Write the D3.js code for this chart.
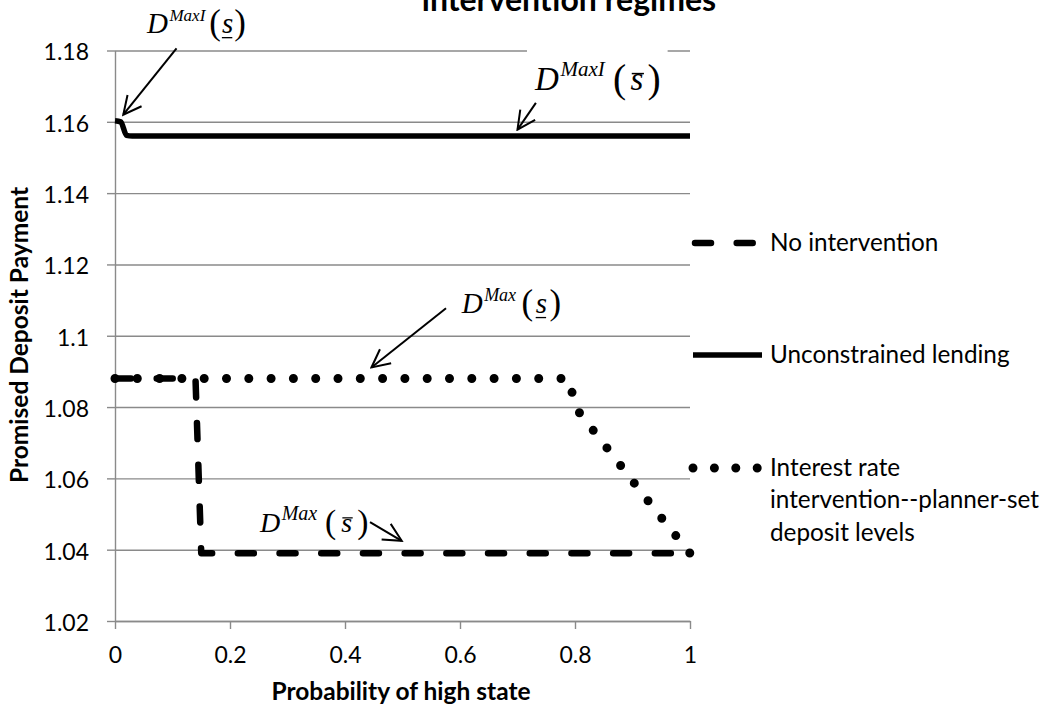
<!DOCTYPE html>
<html>
<head>
<meta charset="utf-8">
<script src="https://cdn.jsdelivr.net/npm/d3@7"></script>
<style>
  body { margin: 0; background: #fff; }
  svg { display: block; }
  text { font-family: Lato, "Open Sans", sans-serif; fill: #000; }
</style>
</head>
<body>
<svg id="chart" width="1052" height="713"></svg>
<script>
// ticks
const xTicks = [0, 0.2, 0.4, 0.6, 0.8, 1]
const xTickLabels = ["0", "0.2", "0.4", "0.6", "0.8", "1"]
const yTicks = [1.02, 1.04, 1.06, 1.08, 1.1, 1.12, 1.14, 1.16, 1.18]
const yTickLabels = ["1.02", "1.04", "1.06", "1.08", "1.1", "1.12", "1.14", "1.16", "1.18"]

// No intervention
const probNone = [0, 0.14, 0.15, 1]
const depNone = [1.088, 1.088, 1.039, 1.039]

// Unconstrained lending
const probUnc = [0, 0.01, 0.02, 0.03, 1]
const depUnc = [1.1603, 1.1600, 1.1562, 1.156, 1.156]

// Interest rate intervention -- planner-set deposit levels
const probRate = [0, 0.79, 0.80, 0.85, 0.90, 0.95, 1]
const depRate = [1.088, 1.088, 1.080, 1.0697, 1.0593, 1.049, 1.039]

const legendLines = [
  ["No intervention"],
  ["Unconstrained lending"],
  ["Interest rate", "intervention--planner-set", "deposit levels"]
]

const titleText = "intervention regimes"
const xTitle = "Probability of high state"
const yTitle = "Promised Deposit Payment"

const svg = d3.select("#chart")
const gridColor = "#8a8a8a"

const x = d3.scaleLinear().domain([0, 1]).range([115, 690])
const y = d3.scaleLinear().domain([1.02, 1.18]).range([621, 50.5])

// gridlines
const grid = svg.append("g")
  .attr("transform", "translate(115,0)")
  .call(d3.axisLeft(y).tickValues(yTicks).tickSize(-575).tickFormat(""))
grid.select(".domain").remove()
grid.selectAll("line").attr("stroke", gridColor).attr("stroke-width", 1.4)

// layer for the white box behind one label (it hides the top gridline)
const annoBack = svg.append("g")

// y axis
const yAxis = svg.append("g")
  .attr("transform", "translate(115,0)")
  .call(d3.axisLeft(y).tickValues(yTicks).tickSize(8).tickSizeOuter(0).tickPadding(18)
    .tickFormat((d, i) => yTickLabels[i]))
yAxis.select(".domain").attr("stroke", gridColor).attr("stroke-width", 1.4)
yAxis.selectAll("line").attr("stroke", gridColor).attr("stroke-width", 1.4)
yAxis.selectAll("text").attr("font-size", 23).attr("dy", "0.41em")
  .style("font-family", "Lato, sans-serif")

// x axis
const xAxis = svg.append("g")
  .attr("transform", "translate(0,621)")
  .call(d3.axisBottom(x).tickValues(xTicks).tickSize(8).tickSizeOuter(0).tickPadding(18)
    .tickFormat((d, i) => xTickLabels[i]))
xAxis.select(".domain").attr("stroke", gridColor).attr("stroke-width", 1.4)
xAxis.selectAll("line").attr("stroke", gridColor).attr("stroke-width", 1.4)
xAxis.selectAll("text").attr("font-size", 23)
  .style("font-family", "Lato, sans-serif")

// series
const line = d3.line().x(d => x(d[0])).y(d => y(d[1]))
const smooth = d3.line().x(d => x(d[0])).y(d => y(d[1])).curve(d3.curveMonotoneX)

const dashStyle = { width: 6.5, dash: "16,25.7" }
const dotStyle = { width: 9, dash: "0,22.3" }

svg.append("path")
  .datum(d3.zip(probNone, depNone))
  .attr("d", line)
  .attr("fill", "none").attr("stroke", "#000")
  .attr("stroke-width", dashStyle.width)
  .attr("stroke-dasharray", dashStyle.dash)
  .attr("stroke-linecap", "round").attr("stroke-linejoin", "round")

svg.append("path")
  .datum(d3.zip(probUnc, depUnc))
  .attr("d", smooth)
  .attr("fill", "none").attr("stroke", "#000")
  .attr("stroke-width", 5.5)
  .attr("stroke-linejoin", "round")

svg.append("path")
  .datum(d3.zip(probRate, depRate))
  .attr("d", line)
  .attr("fill", "none").attr("stroke", "#000")
  .attr("stroke-width", dotStyle.width)
  .attr("stroke-dasharray", dotStyle.dash)
  .attr("stroke-linecap", "round")

// legend
const legend = svg.append("g").attr("transform", "translate(693,0)")
const legendY = [243, 355, 468]
legendLines.forEach((lines, i) => {
  const ly = legendY[i]
  const sample = legend.append("path")
    .attr("d", i === 0 ? `M2,${ly}H60` : `M0,${ly}H69`)
    .attr("fill", "none").attr("stroke", "#000")
  if (i === 0) {
    sample.attr("stroke-width", dashStyle.width).attr("stroke-dasharray", dashStyle.dash)
      .attr("stroke-linecap", "round")
  } else if (i === 1) {
    sample.attr("stroke-width", 5.5)
  } else {
    sample.attr("stroke-width", dotStyle.width).attr("stroke-dasharray", "0,21.4")
      .attr("stroke-linecap", "round")
  }
  const t = legend.append("text")
    .attr("x", 77).attr("y", ly + 8)
    .attr("font-size", 24.3)
  lines.forEach((s, j) => {
    t.append("tspan").attr("x", 77).attr("dy", j === 0 ? 0 : 32.3).text(s)
  })
})

// axis titles
svg.append("text")
  .attr("x", 401).attr("y", 700)
  .attr("text-anchor", "middle")
  .attr("font-size", 24.5).attr("font-weight", "bold")
  .text(xTitle)

svg.append("text")
  .attr("transform", "translate(28,335) rotate(-90)")
  .attr("text-anchor", "middle")
  .attr("font-size", 24.5).attr("font-weight", "bold")
  .text(yTitle)

// title (its top is cut off by the frame, as in the original)
svg.append("text")
  .attr("x", 569).attr("y", 11)
  .attr("text-anchor", "middle")
  .attr("font-size", 32).attr("font-weight", "bold")
  .text(titleText)

// annotations: D^sup(s) with an arrow
const serif = "'Liberation Serif', 'Times New Roman', serif"
const annotations = [
  { sup: "MaxI", accent: "under", at: [0.0557, 1.1849], size: 29, supSize: 17, gaps: [1, 0.5, 0.5], from: [0.107, 1.1806], to: [0.0144, 1.1620] },
  { sup: "MaxI", accent: "over", at: [0.7304, 1.1689], size: 33, supSize: 21, gaps: [5, 3.5, 3.5], from: [0.732, 1.1653], to: [0.700, 1.1578], box: true },
  { sup: "Max", accent: "under", at: [0.603, 1.1064], size: 29, supSize: 18, gaps: [2.5, 2, 2], from: [0.5757, 1.1077], to: [0.446, 1.0911] },
  { sup: "Max", accent: "over", at: [0.2522, 1.0450], size: 28, supSize: 20, gaps: [5, 4.5, 4.5], from: [0.4435, 1.0477], to: [0.4986, 1.0425] }
]

svg.append("defs").append("marker")
  .attr("id", "head")
  .attr("markerUnits", "userSpaceOnUse")
  .attr("viewBox", "-20 -11 22 22")
  .attr("markerWidth", 22).attr("markerHeight", 22)
  .attr("refX", 0).attr("refY", 0)
  .attr("orient", "auto")
  .append("path")
  .attr("d", "M-18,-9L0,0L-18,9")
  .attr("fill", "none").attr("stroke", "#000").attr("stroke-width", 2)

const anno = svg.append("g")
annotations.forEach(a => {
  const g = anno.append("g")
  let cx = x(a.at[0])
  const by = y(a.at[1])
  const put = (txt, fs, italic, dy) => {
    const t = g.append("text")
      .attr("x", cx).attr("y", by + dy)
      .attr("font-size", fs)
      .attr("font-style", italic ? "italic" : "normal")
      .style("font-family", serif)
      .text(txt)
    const x0 = cx
    const w = t.node().getComputedTextLength()
    cx += w
    return [x0, w]
  }
  const paren = a.size * 1.2
  put("D", a.size, true, 0)
  cx += a.size * 0.05
  put(a.sup, a.supSize, true, -a.size * 0.42)
  cx += a.size * 0.1 + a.gaps[0]
  put("(", paren, false, a.size * 0.05)
  cx += a.size * 0.02 + a.gaps[1]
  const [sx, sw] = put("s", a.size, true, 0)
  cx += a.size * 0.02 + a.gaps[2]
  put(")", paren, false, a.size * 0.05)
  const ay = a.accent === "under" ? by + a.size * 0.16 : by - a.size * 0.5
  g.append("line")
    .attr("x1", sx + (a.accent === "under" ? 0 : a.size * 0.04)).attr("x2", sx + sw + (a.accent === "under" ? -a.size * 0.03 : a.size * 0.02))
    .attr("y1", ay).attr("y2", ay)
    .attr("stroke", "#000").attr("stroke-width", a.size * 0.045)
  if (a.box) {
    const bb = g.node().getBBox()
    annoBack.append("rect")
      .attr("x", bb.x - 7).attr("y", bb.y - 12)
      .attr("width", bb.width + 14).attr("height", bb.height + 17)
      .attr("fill", "#fff")
  }
  anno.append("line")
    .attr("x1", x(a.from[0])).attr("y1", y(a.from[1]))
    .attr("x2", x(a.to[0])).attr("y2", y(a.to[1]))
    .attr("stroke", "#000").attr("stroke-width", 2)
    .attr("marker-end", "url(#head)")
})
</script>
</body>
</html>
